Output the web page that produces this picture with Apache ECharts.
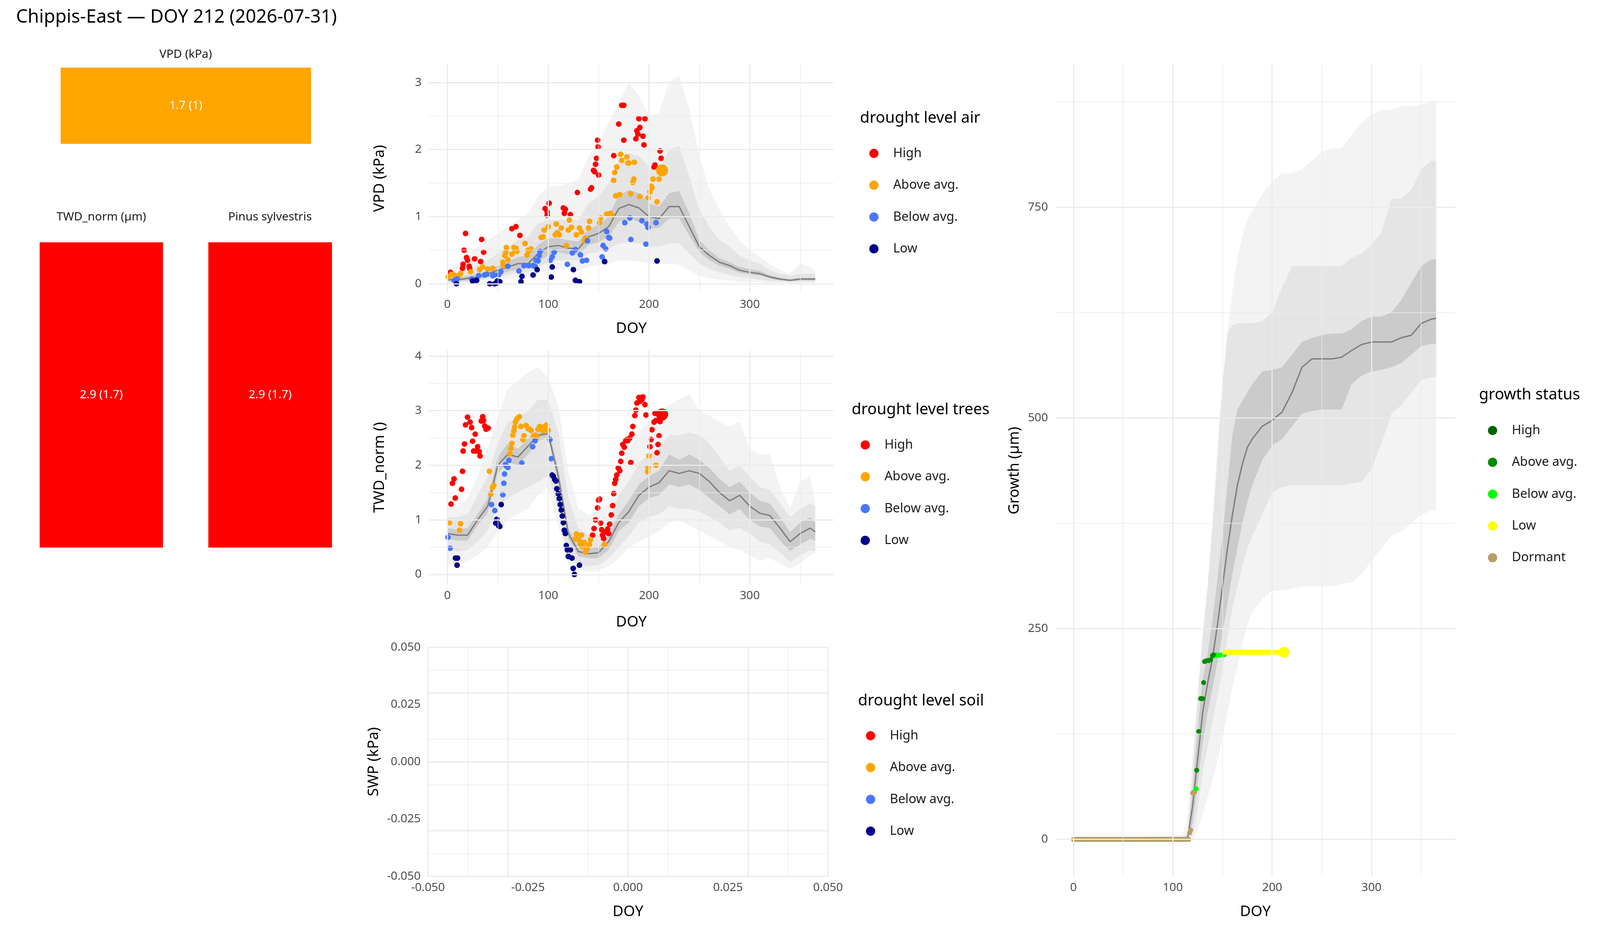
<!DOCTYPE html>
<html><head><meta charset="utf-8">
<script src="https://cdn.jsdelivr.net/npm/echarts@6/dist/echarts.min.js"></script>
<style>html,body{margin:0;padding:0;background:#fff;overflow:hidden}#c{width:100vw;height:100vh}</style>
</head><body><div id="c"></div>
<script>
// ---------- DATA ----------
const titleText = 'Chippis-East — DOY 212 (2026-07-31)';
const tileLabels = ['VPD (kPa)', 'TWD_norm (µm)', 'Pinus sylvestris'];
const tileValues = ['1.7 (1)', '2.9 (1.7)', '2.9 (1.7)'];
const tileColors = ['#FFA500', '#FF0000', '#FF0000'];
const levelNames = ['High', 'Above avg.', 'Below avg.', 'Low'];
const levelColors = ['#FF0000', '#FFA500', '#4876FF', '#00008B'];
const growthNames = ['High', 'Above avg.', 'Below avg.', 'Low', 'Dormant'];
const growthColors = ['#006400', '#008B00', '#00FF00', '#FFFF00', '#B89F65'];
const doyTicks = [0, 100, 200, 300];
const doyMinor = [50, 150, 250, 350];
const vpdTicks = [0, 1, 2, 3];
const vpdMinor = [0.5, 1.5, 2.5];
const twdTicks = [0, 1, 2, 3, 4];
const twdMinor = [0.5, 1.5, 2.5, 3.5];
const swpTicks = [-0.05, -0.025, 0, 0.025, 0.05];
const swpMinor = [-0.0375, -0.0125, 0.0125, 0.0375];
const growthTicks = [0, 250, 500, 750];
const growthMinor = [125, 375, 625, 875];

const bandDoy = [0,10,20,30,40,50,60,70,80,90,100,110,120,130,140,150,160,170,180,190,200,210,220,230,240,250,260,270,280,290,300,310,320,330,340,350,360,365];
const vpdMed = [0.06,0.06,0.08,0.1,0.15,0.2,0.25,0.3,0.3,0.45,0.55,0.57,0.53,0.52,0.7,0.75,0.85,1.12,1.18,1.13,1.0,0.97,1.15,1.15,0.85,0.55,0.42,0.32,0.27,0.2,0.17,0.15,0.1,0.07,0.05,0.07,0.07,0.07];
const vpdLo1 = [0.04,0.04,0.05,0.07,0.1,0.13,0.18,0.22,0.22,0.33,0.42,0.47,0.44,0.43,0.58,0.62,0.7,0.92,0.98,0.92,0.82,0.83,0.97,0.97,0.72,0.47,0.35,0.27,0.22,0.16,0.14,0.12,0.08,0.05,0.04,0.05,0.05,0.05];
const vpdHi1 = [0.08,0.09,0.12,0.15,0.2,0.27,0.33,0.4,0.42,0.58,0.68,0.68,0.65,0.63,0.82,0.88,1.0,1.32,1.4,1.35,1.2,1.15,1.35,1.38,1.05,0.65,0.5,0.38,0.32,0.25,0.22,0.19,0.13,0.09,0.07,0.09,0.09,0.09];
const vpdLo2 = [0.02,0.02,0.03,0.05,0.07,0.1,0.13,0.17,0.17,0.25,0.32,0.35,0.35,0.35,0.45,0.48,0.52,0.6,0.62,0.6,0.55,0.55,0.6,0.6,0.45,0.3,0.22,0.17,0.13,0.1,0.08,0.06,0.04,0.03,0.02,0.03,0.03,0.03];
const vpdHi2 = [0.12,0.16,0.22,0.27,0.35,0.45,0.55,0.65,0.7,0.9,0.95,0.95,0.95,0.95,1.2,1.3,1.5,1.85,1.95,1.9,1.75,1.7,2.0,2.05,1.6,1.1,0.85,0.65,0.55,0.42,0.35,0.3,0.2,0.15,0.12,0.15,0.15,0.15];
const vpdLo3 = [0,0,0.01,0.02,0.03,0.05,0.07,0.1,0.1,0.15,0.2,0.22,0.22,0.2,0.25,0.28,0.3,0.35,0.35,0.33,0.3,0.3,0.3,0.28,0.2,0.12,0.08,0.06,0.04,0.03,0.02,0.02,0.01,0.01,0.01,0.01,0.01,0.01];
const vpdHi3 = [0.2,0.3,0.45,0.55,0.65,0.75,0.85,0.95,1.05,1.3,1.45,1.45,1.5,1.55,1.9,2.1,2.4,2.7,3.0,2.8,2.5,2.55,3.0,3.1,2.6,1.9,1.4,1.1,0.85,0.65,0.5,0.4,0.3,0.2,0.15,0.3,0.25,0.2];

const twdMed = [0.75,0.72,0.72,1.0,1.25,2.0,2.2,2.15,2.35,2.55,2.58,1.8,0.75,0.42,0.38,0.4,0.6,0.95,1.15,1.45,1.6,1.68,1.9,1.85,1.9,1.85,1.7,1.5,1.35,1.45,1.25,1.12,1.08,0.85,0.6,0.75,0.85,0.78];
const twdLo1 = [0.65,0.62,0.62,0.9,1.12,1.85,2.05,2.0,2.2,2.45,2.5,1.7,0.65,0.33,0.3,0.3,0.45,0.8,0.95,1.25,1.4,1.45,1.65,1.6,1.65,1.55,1.4,1.25,1.1,1.2,1.0,0.88,0.85,0.62,0.43,0.55,0.65,0.62];
const twdHi1 = [0.85,0.82,0.85,1.1,1.4,2.15,2.4,2.3,2.5,2.65,2.68,1.95,0.85,0.52,0.48,0.5,0.72,1.1,1.35,1.65,1.8,1.9,2.2,2.1,2.2,2.1,1.95,1.75,1.6,1.7,1.5,1.35,1.3,1.05,0.78,0.95,1.05,0.95];
const twdLo2 = [0.45,0.42,0.45,0.6,0.8,1.25,1.4,1.5,1.6,1.7,1.8,1.2,0.3,0.18,0.15,0.17,0.3,0.5,0.7,0.95,1.05,1.1,1.25,1.2,1.2,1.15,1.05,0.95,0.8,0.85,0.75,0.6,0.55,0.4,0.22,0.35,0.45,0.42];
const twdHi2 = [1.05,1.05,1.1,1.45,1.8,2.4,2.8,2.85,3.0,3.2,3.2,2.6,1.4,0.85,0.72,0.75,1.0,1.45,1.7,2.05,2.2,2.3,2.55,2.55,2.6,2.55,2.4,2.15,1.9,2.0,1.8,1.6,1.55,1.3,1.05,1.2,1.3,1.25];
const twdLo3 = [0.2,0.15,0.25,0.35,0.5,0.8,1.0,1.1,1.2,1.45,1.6,0.9,0.2,0.08,0.05,0.07,0.15,0.3,0.5,0.6,0.7,0.8,0.95,1.0,0.9,0.8,0.7,0.6,0.5,0.45,0.35,0.25,0.3,0.2,0.1,0.2,0.35,0.4];
const twdHi3 = [1.3,1.2,1.4,1.8,2.3,2.9,3.4,3.55,3.7,3.8,3.6,3.1,1.9,1.2,1.1,1.15,1.3,1.9,2.3,2.6,2.8,3.0,3.1,3.2,3.3,3.0,2.9,2.8,2.7,2.8,2.3,2.2,2.2,1.6,1.2,1.7,1.8,1.3];

const grDoy = [0,110,115,120,125,130,135,140,145,150,155,160,165,170,175,180,190,200,210,220,230,240,250,260,270,280,290,300,310,320,330,340,350,360,365];
const grMed = [0,0,2,40,95,150,185,215,255,300,345,385,420,445,465,475,490,497,507,530,560,570,570,570,572,580,587,590,590,590,595,598,612,617,618];
const grLo1 = [0,0,0,20,65,115,150,180,210,245,280,315,345,375,400,420,450,467,475,490,505,508,510,510,510,540,550,555,557,560,565,575,585,588,588];
const grHi1 = [0,0,5,60,130,190,220,260,310,360,420,480,510,520,530,540,555,557,560,575,590,595,598,600,600,605,615,620,620,625,640,660,680,688,688];
const grLo2 = [0,0,0,5,35,80,110,140,170,200,240,275,300,325,345,360,385,412,418,420,420,420,420,420,420,422,424,440,470,505,515,530,545,548,548];
const grHi2 = [0,0,10,80,170,240,300,370,450,540,600,610,612,612,613,612,615,625,655,680,680,680,680,680,680,690,695,705,720,760,760,770,795,805,805];
const grLo3 = [0,0,0,0,10,30,50,70,95,120,150,180,205,230,255,270,285,295,295,297,300,300,300,300,303,305,315,330,345,360,365,375,385,390,390];
const grHi3 = [0,5,30,100,170,240,300,380,470,540,600,650,690,715,735,745,765,780,790,790,795,805,815,820,820,835,850,860,865,865,870,870,872,875,875];

const vpdHigh = [[3,0.17],[18,0.75],[16.5,0.5],[19,0.39],[20,0.35],[15.6,0.29],[15,0.23],[21.6,0.26],[22,0.23],[27,0.37],[34,0.66],[36,0.47],[33,0.33],[64,0.82],[68,0.85],[72,0.72],[97,1.12],[99,1.07],[99,1.02],[101,1.2],[115,1.13],[117,1.11],[116,1.05],[122,1.03],[129,1.36],[142,1.41],[143,1.43],[145,1.69],[146,1.67],[147,1.78],[148,1.87],[149,2.14],[149.5,2.04],[150,1.62],[165,1.91],[170,2.38],[173,2.66],[175,2.66],[175,2.14],[187,2.16],[188,2.28],[189,2.23],[190,2.46],[191,2.33],[194,2.2],[195,2.07],[196,2.46],[205,1.74],[206,1.77],[211,1.98],[212,1.87]];
const vpdAbove = [[1,0.1],[4,0.14],[7,0.13],[11,0.12],[13,0.15],[23,0.18],[32,0.21],[35,0.25],[40,0.22],[45,0.23],[55,0.32],[55.5,0.27],[57,0.42],[58,0.47],[58.5,0.54],[60,0.36],[64,0.44],[66,0.54],[67,0.49],[68,0.53],[69,0.48],[77,0.6],[79,0.43],[80,0.5],[81,0.49],[83,0.52],[93,0.69],[95,0.7],[96,0.8],[100,0.85],[107,0.73],[108,0.89],[109,0.76],[111,0.73],[113,0.83],[118,0.57],[120,0.8],[121,0.95],[123,0.84],[128,0.73],[131,0.83],[133,0.77],[136,0.64],[137,0.68],[140,0.83],[141,0.93],[151,0.91],[152,0.98],[158,1.04],[162,1.05],[163,1.02],[165,1.54],[166,1.66],[167,1.31],[168,1.74],[171,1.33],[172,1.93],[173,1.84],[178,1.89],[179,1.8],[180,1.8],[182,1.34],[184,1.51],[185,1.56],[185.5,1.81],[191,1.3],[199,1.28],[201,1.37],[202,1.46],[203,1.43],[204,1.56],[208,1.22],[210,1.56]];
const vpdBelow = [[6.6,0.05],[9.6,0.07],[24,0.07],[25,0.065],[31,0.12],[37,0.13],[39,0.14],[45,0.12],[46.5,0.13],[51,0.135],[53,0.18],[60,0.26],[71,0.19],[76,0.27],[81,0.27],[85,0.27],[87,0.26],[88,0.35],[90,0.34],[91,0.42],[92,0.48],[102,0.35],[104,0.4],[106,0.47],[119,0.29],[124,0.46],[127,0.51],[132,0.43],[134,0.34],[138,0.35],[139,0.64],[153.5,0.4],[154.5,0.57],[157,0.52],[158,0.78],[160,0.69],[161,0.68],[176,0.91],[181,0.98],[182,0.66],[193,0.94],[197,0.59],[198,0.89],[199,0.84],[207,0.91]];
const vpdLow = [[9,0],[25,0.04],[29,0.05],[42,0],[47,0],[49,0.01],[49.5,0.04],[52,0.03],[73,0.03],[74,0.11],[85,0.13],[89,0.21],[103,0.1],[104,0.25],[125,0.21],[127,0.05],[131,0.03],[156,0.33],[208,0.34]];
const vpdToday = [[213,1.69]];

const twdHigh = [[3.6,1.29],[5,1.67],[6.6,1.75],[7.8,1.4],[14,1.56],[15,1.89],[15.6,2.26],[17,2.39],[18,2.74],[20,2.88],[22.5,2.79],[24,2.69],[25,2.44],[26,2.26],[27.6,2.57],[28.5,2.26],[30,2.34],[31.5,2.25],[32.4,2.17],[33.6,2.81],[35,2.89],[36,2.82],[37,2.72],[38.4,2.66],[40.5,2.68],[144,0.72],[145.5,0.84],[147,1.0],[149,1.22],[150,1.36],[151,1.38],[152,0.94],[153,0.82],[154,0.72],[155,0.66],[157.5,0.78],[159,0.83],[160,0.75],[161,0.92],[162.6,1.09],[164,1.26],[165,1.48],[166,1.67],[167,1.74],[168,1.82],[169.5,1.95],[171,1.9],[172,2.07],[173,2.22],[174,2.38],[175.5,2.33],[177,2.45],[178,2.47],[179,2.45],[181,2.5],[182,2.05],[183,2.57],[184,2.71],[186,2.91],[187,3.01],[188,3.14],[190,3.24],[191,3.17],[192,3.24],[193,3.2],[194,3.25],[196,3.11],[197,2.92],[201,2.34],[202,2.47],[203,2.65],[205,2.79],[206,2.95],[207,2.82],[208,2.23],[209,2.38],[210,2.54],[211,2.8]];
const twdAbove = [[2,0.95],[12,0.81],[13,0.93],[41.7,1.89],[43,1.47],[44.7,1.59],[46,1.63],[62,2.21],[63,2.31],[64,2.4],[65,2.55],[66,2.63],[66.6,2.7],[67.5,2.79],[68.7,2.84],[70,2.87],[71.4,2.89],[73,2.71],[75,2.47],[76,2.54],[78,2.73],[80,2.67],[81.6,2.66],[83,2.64],[85.5,2.54],[87,2.55],[89,2.52],[90,2.66],[91.5,2.71],[93.6,2.68],[95,2.63],[96.6,2.71],[98.4,2.74],[100,2.64],[127,0.65],[128,0.74],[129.6,0.64],[131,0.61],[132,0.56],[133,0.72],[134,0.51],[135.6,0.59],[137,0.41],[138.6,0.46],[140,0.53],[141,0.55],[142,0.64],[156,0.55],[198.6,1.88],[199,1.96],[200,2.17],[207,2.0]];
const twdBelow = [[0.6,0.68],[2.7,0.48],[43.8,1.28],[47,1.17],[55,1.46],[56,1.67],[56.7,1.84],[57.6,2.01],[58.8,1.98],[60,1.96],[61,2.09],[73.8,2.04],[84.6,2.34],[87,2.45],[101.7,2.47],[103,2.12]];
const twdLow = [[8,0.3],[10,0.3],[9.6,0.17],[49,1.01],[48,0.94],[50,0.93],[51,0.89],[52,0.88],[53.4,1.28],[104,1.82],[105,1.8],[106.5,1.74],[107.7,1.71],[108.6,1.57],[110,1.48],[111,1.39],[112,1.28],[113,1.18],[114,1.07],[115,0.95],[116,0.81],[117,0.75],[118,0.53],[119,0.45],[120,0.33],[122,0.45],[123.6,0.3],[124.8,0.11],[126,0],[131,0.17]];
const twdToday = [[213,2.93]];

const grDormantLine = [[0,0],[116,0]];
const grDormantPts = [[117,8],[118,11],[120,55],[121,56],[122,56]];
const grBelowPts = [[123.6,60]];
const grBelowLine = [[140,218],[152,219]];
const grAbovePts = [[124,82],[126,128],[128,167],[130,167],[131,186],[132,211],[134,212],[136,212],[138,213],[140,218],[141,219]];
const grHighPts = [];
const grLowLine = [[152,222],[212,222]];
const grToday = [[212,222]];

// ---------- CHART ----------
const FONT = 'Noto Sans';
const SX = window.innerWidth / 4800, SY = window.innerHeight / 2400, SF = Math.min(1, (SX + SY) / 2 * 0.98);
const X = v => v * SX, Y = v => v * SY, F = v => v * SF;
const chart = echarts.init(document.getElementById('c'), null, {renderer: 'canvas'});
const gridBoxes = [
  [1287, 163, 1214, 587],
  [1287, 897, 1214, 598],
  [1284, 1656, 1200, 586],
  [3166, 166, 1200, 2076],
  [182, 173, 751, 195],
  [119, 620, 370, 781],
  [625, 620, 371, 781]
];
const grids = gridBoxes.map(b => ({left: X(b[0]), top: Y(b[1]), width: X(b[2]), height: Y(b[3])}));
const tickStyle = {color: '#4d4d4d', fontFamily: FONT, fontSize: F(33)};
const nameStyle = {color: '#000', fontFamily: FONT, fontSize: F(42)};
function valAxis(gi, min, max, labels, name, gap, margin, fmt) {
  return {type: 'value', gridIndex: gi, min: min, max: max, name: name, nameLocation: 'middle', nameGap: gap,
    nameTextStyle: nameStyle, axisLine: {show: false}, axisTick: {show: false}, splitLine: {show: false},
    axisLabel: Object.assign({customValues: labels, margin: margin, formatter: fmt || (v => String(v))}, tickStyle)};
}
const f3 = v => v.toFixed(3);
const xAxes = [
  valAxis(0, -18.25, 383.25, doyTicks, 'DOY', Y(72), Y(14)),
  valAxis(1, -18.25, 383.25, doyTicks, 'DOY', Y(78), Y(14)),
  valAxis(2, -0.05, 0.05, swpTicks, 'DOY', Y(72), Y(14), f3),
  valAxis(3, -18.25, 384.4, doyTicks, 'DOY', Y(72), Y(14)),
  {type: 'category', gridIndex: 4, data: [''], show: false},
  {type: 'category', gridIndex: 5, data: [''], show: false},
  {type: 'category', gridIndex: 6, data: [''], show: false}
];
const yAxes = [
  valAxis(0, -0.14, 3.28, vpdTicks, 'VPD (kPa)', X(125), X(22)),
  valAxis(1, -0.18, 4.1, twdTicks, 'TWD_norm ()', X(125), X(22)),
  valAxis(2, -0.05, 0.05, swpTicks, 'SWP (kPa)', X(140), X(22), f3),
  valAxis(3, -43.75, 918.75, growthTicks, 'Growth (µm)', X(100), X(22)),
  {type: 'value', gridIndex: 4, min: 0, max: 1, show: false},
  {type: 'value', gridIndex: 5, min: 0, max: 1, show: false},
  {type: 'value', gridIndex: 6, min: 0, max: 1, show: false}
];
const series = [];
function gridLines(gi, xMaj, xMin, yMaj, yMin) {
  const mk = (arr, key, w) => arr.map(v => ({[key]: v, lineStyle: {color: '#ebebeb', width: w, type: 'solid'}}));
  series.push({type: 'line', xAxisIndex: gi, yAxisIndex: gi, data: [], silent: true, z: 0,
    markLine: {silent: true, symbol: 'none', label: {show: false}, animation: false,
      data: [].concat(mk(xMin, 'xAxis', 1.5), mk(yMin, 'yAxis', 1.5), mk(xMaj, 'xAxis', 3), mk(yMaj, 'yAxis', 3))}});
}
function band(gi, xs, lo, hi, color) {
  series.push({type: 'custom', xAxisIndex: gi, yAxisIndex: gi, data: [[0]], silent: true, z: 1, clip: true,
    renderItem: (params, api) => {
      const pts = [];
      for (let i = 0; i < xs.length; i++) pts.push(api.coord([xs[i], hi[i]]));
      for (let i = xs.length - 1; i >= 0; i--) pts.push(api.coord([xs[i], lo[i]]));
      return {type: 'polygon', shape: {points: pts}, style: {fill: color}};
    }});
}
function medLine(gi, xs, ys) {
  series.push({type: 'line', xAxisIndex: gi, yAxisIndex: gi, data: xs.map((x, i) => [x, ys[i]]), symbol: 'none',
    lineStyle: {color: '#7f7f7f', width: 3.5}, z: 2, silent: true});
}
function pts(gi, name, data, color, size) {
  series.push({type: 'scatter', name: name, xAxisIndex: gi, yAxisIndex: gi, data: data, symbolSize: F(size || 16),
    itemStyle: {color: color, opacity: 1}, z: 3});
}
function thick(gi, name, data, color) {
  series.push({type: 'line', name: name, xAxisIndex: gi, yAxisIndex: gi, data: data, symbol: 'none',
    lineStyle: {color: color, width: F(14), cap: 'round'}, itemStyle: {color: color}, z: 3});
}
gridLines(0, doyTicks, doyMinor, vpdTicks, vpdMinor);
gridLines(1, doyTicks, doyMinor, twdTicks, twdMinor);
gridLines(2, swpTicks, swpMinor, swpTicks, swpMinor);
gridLines(3, doyTicks, doyMinor, growthTicks, growthMinor);

band(0, bandDoy, vpdLo3, vpdHi3, '#f3f3f3');
band(0, bandDoy, vpdLo2, vpdHi2, '#e5e5e5');
band(0, bandDoy, vpdLo1, vpdHi1, '#cbcbcb');
medLine(0, bandDoy, vpdMed);
[vpdHigh, vpdAbove, vpdBelow, vpdLow].forEach((d, i) => pts(0, levelNames[i], d, levelColors[i]));
pts(0, 'Above avg.', vpdToday, levelColors[1], 34);

band(1, bandDoy, twdLo3, twdHi3, '#f3f3f3');
band(1, bandDoy, twdLo2, twdHi2, '#e5e5e5');
band(1, bandDoy, twdLo1, twdHi1, '#cbcbcb');
medLine(1, bandDoy, twdMed);
[twdHigh, twdAbove, twdBelow, twdLow].forEach((d, i) => pts(1, levelNames[i], d, levelColors[i]));
pts(1, 'High', twdToday, levelColors[0], 34);

band(3, grDoy, grLo3, grHi3, '#f3f3f3');
band(3, grDoy, grLo2, grHi2, '#e5e5e5');
band(3, grDoy, grLo1, grHi1, '#cbcbcb');
medLine(3, grDoy, grMed);
thick(3, 'Dormant', grDormantLine, growthColors[4]);
pts(3, 'Dormant', grDormantPts, growthColors[4], 14);
pts(3, 'High', grHighPts, growthColors[0], 14);
pts(3, 'Above avg.', grAbovePts, growthColors[1], 14);
pts(3, 'Below avg.', grBelowPts, growthColors[2], 14);
thick(3, 'Below avg.', grBelowLine, growthColors[2]);
thick(3, 'Low', grLowLine, growthColors[3]);
pts(3, 'Low', grToday, growthColors[3], 30);

for (let t = 0; t < 3; t++) {
  series.push({type: 'bar', xAxisIndex: 4 + t, yAxisIndex: 4 + t, data: [1], barWidth: '100%', silent: true,
    itemStyle: {color: tileColors[t]},
    label: {show: true, position: 'inside', formatter: tileValues[t], color: '#fff', fontFamily: FONT, fontSize: F(33)}});
}

function legend(top, left, names, colors) {
  return {orient: 'vertical', top: Y(top), left: X(left), itemWidth: F(26), itemHeight: F(26), itemGap: Y(72) - F(26), icon: 'circle',
    selectedMode: false,
    textStyle: {color: '#1a1a1a', fontFamily: FONT, fontSize: F(36), padding: [0, 0, 0, X(38)]},
    data: names.map((n, i) => ({name: n, icon: 'circle', itemStyle: {color: colors[i]}}))};
}
const gtext = (x, y, text, size, align, color) => ({type: 'text', x: X(x), y: Y(y),
  style: {text: text, fontFamily: FONT, fontSize: F(size), fill: color || '#000', textAlign: align || 'left', textVerticalAlign: 'middle'}});

chart.setOption({
  animation: false,
  backgroundColor: '#fff',
  grid: grids,
  xAxis: xAxes,
  yAxis: yAxes,
  series: series,
  legend: [
    legend(384 - 13, 2615 - 13, levelNames, levelColors),
    legend(1130 - 13, 2589 - 13, levelNames, levelColors),
    legend(1874 - 13, 2605 - 13, levelNames, levelColors),
    legend(1093 - 13, 4471 - 13, growthNames, growthColors)
  ],
  graphic: [
    gtext(48, 45, titleText, 52),
    gtext(557, 139, tileLabels[0], 33, 'center', '#1a1a1a'),
    gtext(304, 555, tileLabels[1], 33, 'center', '#1a1a1a'),
    gtext(810, 555, tileLabels[2], 33, 'center', '#1a1a1a'),
    gtext(2580, 303, 'drought level air', 44),
    gtext(2555, 1049, 'drought level trees', 44),
    gtext(2574, 1794, 'drought level soil', 44),
    gtext(4437, 1011, 'growth status', 44)
  ]
});
</script></body></html>
